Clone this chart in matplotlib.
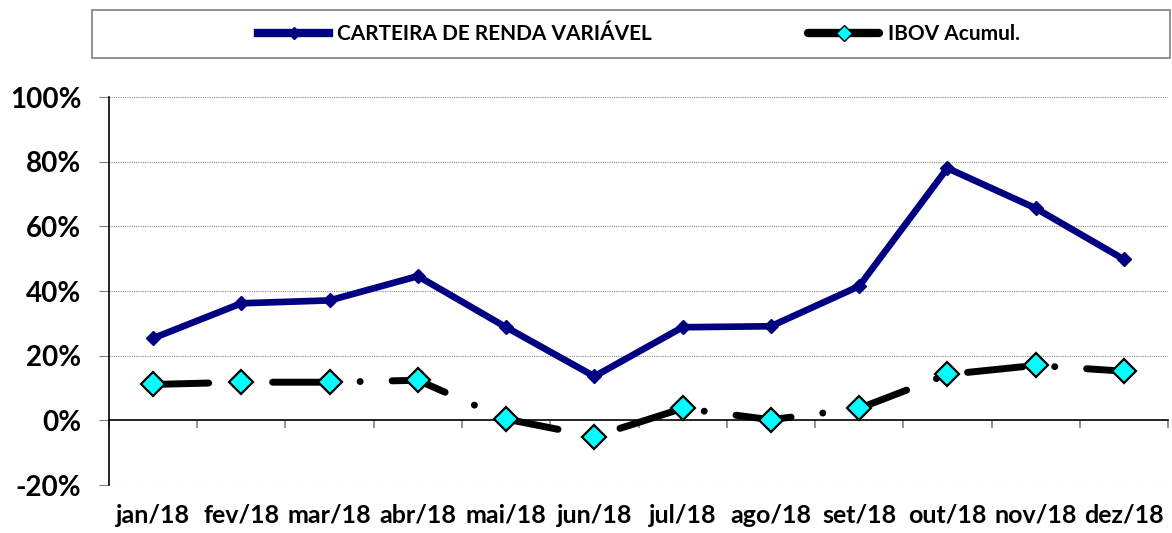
import matplotlib.pyplot as plt
from matplotlib.lines import Line2D
from matplotlib.patches import Rectangle

meses = ['jan/18', 'fev/18', 'mar/18', 'abr/18', 'mai/18', 'jun/18',
         'jul/18', 'ago/18', 'set/18', 'out/18', 'nov/18', 'dez/18']
carteira = [25.4, 36.2, 37.1, 44.6, 28.8, 13.6, 28.8, 29.1, 41.5, 78.0, 65.6, 49.8]
ibov = [11.1, 11.8, 11.8, 12.4, 0.4, -5.0, 3.7, 0.2, 3.7, 14.2, 17.0, 15.2]
yticks = [-20, 0, 20, 40, 60, 80, 100]

plt.rcParams['font.family'] = ['Lato', 'DejaVu Sans']
plt.rcParams['font.weight'] = 'bold'

fig = plt.figure(figsize=(11.72, 5.33), dpi=100)
ax = fig.add_axes([0.093, 0.090, 0.9036, 0.728])

x = list(range(len(meses)))

ax.plot(x, carteira, color='#000080', lw=4.8, marker='D', ms=7,
        mfc='#000080', mec='#000080', zorder=4)
ax.plot(x, ibov, color='black', lw=5, solid_capstyle='round',
        dash_capstyle='round', dashes=(8.0, 4.6, 0.01, 4.6),
        marker='D', ms=12, mfc='#00FFFF', mec='black', mew=1.6, zorder=3)

ax.set_xlim(-0.5, 11.5)
ax.set_ylim(-20, 100)

ax.set_yticks(yticks)
ax.set_yticklabels([f'{v}%' for v in yticks], fontsize=20, fontweight='bold')
ax.tick_params(axis='y', length=7, color='#808080', pad=13)
for v in yticks:
    if v != 0:
        ax.axhline(v, color='#8c8c8c', lw=0.8, ls=(0, (1, 1)), zorder=1)

ax.spines['top'].set_visible(False)
ax.spines['right'].set_visible(False)
ax.spines['bottom'].set_position(('data', 0))
ax.spines['bottom'].set_zorder(2)
ax.spines['left'].set_linewidth(1.2)
ax.spines['bottom'].set_linewidth(1.2)

ax.set_xticks(x)
ax.set_xticklabels(meses, fontsize=18, fontweight='bold')
ax.set_xticks([i + 0.5 for i in range(-1, len(meses))], minor=True)
ax.tick_params(axis='x', which='major', length=0, pad=60)
ax.tick_params(axis='x', which='minor', length=6, color='#808080', width=1.2)

# caixa da legenda
fig.patches.append(Rectangle((92 / 1172, 1 - 58 / 533), (1170 - 92) / 1172, 48 / 533,
                             transform=fig.transFigure, fill=False,
                             edgecolor='#808080', lw=1.2))
handles = [
    Line2D([], [], color='#000080', lw=6, marker='D', ms=6, mfc='#000080', mec='#000080'),
    Line2D([], [], color='black', lw=6, solid_capstyle='round', marker='D', ms=8,
           mfc='#00FFFF', mec='black', mew=1.0),
]
fig.legend(handles, ['CARTEIRA DE RENDA VARIÁVEL', 'IBOV Acumul.'],
           loc='center', bbox_to_anchor=(639 / 1172, 1 - 34 / 533), ncol=2,
           frameon=False, prop={'size': 15, 'weight': 'bold'},
           handlelength=3.4, handletextpad=0.4, columnspacing=7.5)

fig.savefig('out.png', dpi=100)
